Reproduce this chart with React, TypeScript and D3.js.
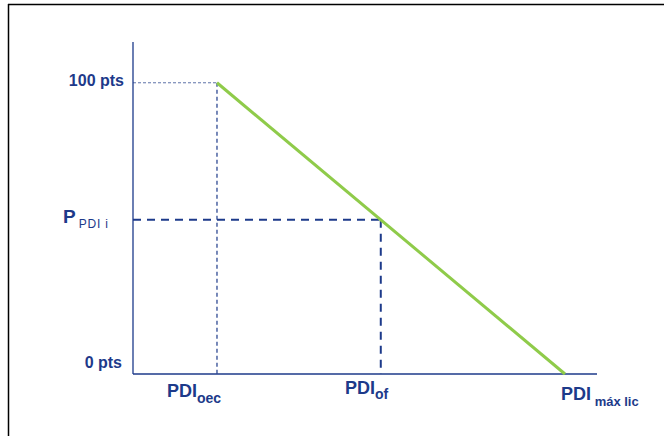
import React from 'react';
import * as d3 from 'd3';

// x positions on a unitless PDI axis (axis runs 0..100)
const xTicks = [
  { key: 'oec', main: 'PDI', sub: 'oec', value: 18.1 },
  { key: 'of', main: 'PDI', sub: 'of', value: 53.4 },
  { key: 'max', main: 'PDI', sub: ' máx lic', value: 93.1 },
];
// y tick labels (points)
const yTicks = [
  { label: '100 pts', value: 100 },
  { label: '0 pts', value: 0 },
];
const scoreLine = [
  { x: 18.1, y: 100 },
  { x: 93.1, y: 0 },
];

const NAVY = '#1d3a8a';
const GREEN = '#8fcb4a';
const W = 664;
const H = 436;

export default function App() {
  const x = d3.scaleLinear().domain([0, 100]).range([133, 597]);
  const y = d3.scaleLinear().domain([0, 114]).range([374, 42]);

  const oec = xTicks[0].value;
  const of = xTicks[1].value;
  const mx = xTicks[2].value;
  // score at PDI_of
  const pi = (100 * (mx - of)) / (mx - oec);

  const line = d3.line<{ x: number; y: number }>()
    .x((d) => x(d.x))
    .y((d) => y(d.y));

  const font = 'Arial, "Liberation Sans", sans-serif';
  const labelX = [167, 345, 561];
  const labelY = [397, 394, 400];
  const subSize = [14, 14, 13];
  const subDy = [6, 5, 6];

  return (
    <div style={{ position: 'absolute', left: 0, top: 0 }}>
      <svg width={W} height={H} style={{ display: 'block', background: '#fff' }} fontFamily={font}>
        {/* frame */}
        <line x1={8} x2={W} y1={4.5} y2={4.5} stroke="#000" strokeWidth={1.5} />
        <line x1={8.5} x2={8.5} y1={4} y2={H} stroke="#000" strokeWidth={1.5} />

        {/* guides for 100 pts / PDI oec */}
        <line x1={x(0)} x2={x(oec)} y1={y(100)} y2={y(100)} stroke="#5f73a8" strokeWidth={1} strokeDasharray="3,2" />
        <line x1={x(oec)} x2={x(oec)} y1={y(100)} y2={y(0)} stroke={NAVY} strokeWidth={1.2} strokeDasharray="4,3" />

        {/* guides for P PDI i / PDI of */}
        <line x1={x(0)} x2={x(of)} y1={y(pi)} y2={y(pi)} stroke={NAVY} strokeWidth={2} strokeDasharray="8,6" />
        <line x1={x(of)} x2={x(of)} y1={y(pi)} y2={y(0)} stroke={NAVY} strokeWidth={2} strokeDasharray="8,6" />

        {/* axes */}
        <line x1={x(0)} x2={x(0)} y1={y(114)} y2={y(0)} stroke={NAVY} strokeWidth={1.3} />
        <line x1={x(0)} x2={x(100)} y1={y(0)} y2={y(0)} stroke={NAVY} strokeWidth={1.3} />

        {/* score line */}
        <path d={line(scoreLine) || ''} fill="none" stroke={GREEN} strokeWidth={3} />

        {/* y labels */}
        {yTicks.map((t, i) => (
          <text key={t.label} x={i === 0 ? 124 : 122} y={y(t.value) + (i === 0 ? 3 : -6)} textAnchor="end"
            fontSize={16} fontWeight="bold" fill={NAVY}>
            {t.label}
          </text>
        ))}
        <text x={63} y={223} fill={NAVY} fontWeight="bold" fontSize={19}>
          P<tspan fontSize={12} fontWeight="normal" dy={5} dx={3} letterSpacing={0.8}>PDI i</tspan>
        </text>

        {/* x labels */}
        {xTicks.map((t, i) => (
          <text key={t.key} x={labelX[i]} y={labelY[i]} fill={NAVY}
            fontWeight="bold" fontSize={18}>
            {t.main}
            <tspan fontSize={subSize[i]} dy={subDy[i]}>{t.sub}</tspan>
          </text>
        ))}
      </svg>
    </div>
  );
}
